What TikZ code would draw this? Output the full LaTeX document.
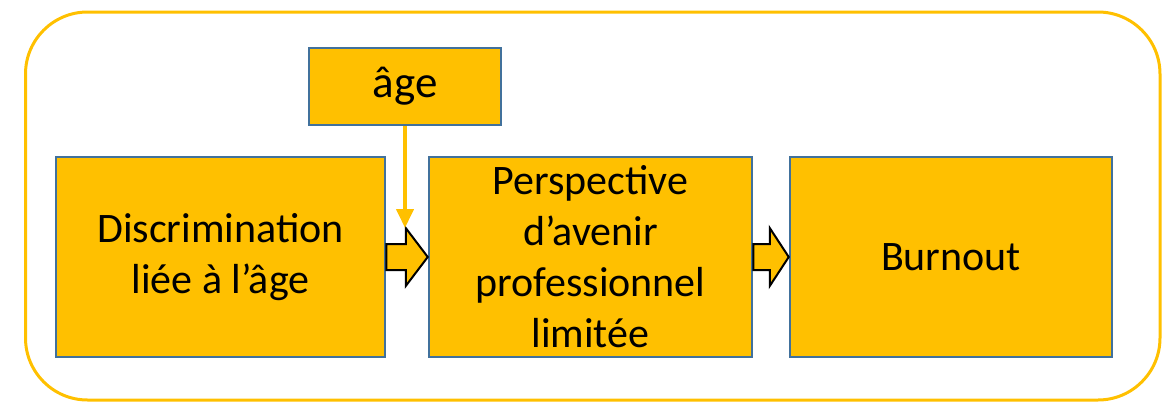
\documentclass[tikz,border=0pt]{standalone}
\usepackage{fontspec}
\setmainfont{Carlito}
\usetikzlibrary{arrows.meta,positioning,calc}
\definecolor{boxOrange}{HTML}{FFC000}
\definecolor{boxEdge}{HTML}{41719C}

\begin{document}
\begin{tikzpicture}[x=1pt,y=-1pt,
  box/.style={draw=boxEdge,line width=2.5pt,fill=boxOrange,inner sep=0pt,
    minimum height=200pt,align=center,font=\fontsize{42}{51}\selectfont},
  blockarr/.style={draw=black,line width=2pt,fill=boxOrange,line join=miter},
  feed/.style={draw=boxOrange,line width=4pt,-{Triangle[width=17pt,length=19pt]}}]
  \useasboundingbox (0,0) rectangle (1163,402);
  % outer frame
  \draw[boxOrange,line width=3pt,rounded corners=62pt] (25.5,12) rectangle (1160,400);
  % chain of boxes, left to right
  \node[box,minimum width=329pt] (disc) at (220.5,257) {Discrimination\\liée à l’âge};
  \node[box,minimum width=323pt,right=41.5pt of disc] (persp) {Perspective\\d’avenir\\professionnel\\limitée};
  \node[box,minimum width=322pt,right=35.5pt of persp] (burn) {Burnout};
  \node[box,minimum width=192pt,minimum height=77pt,font=\fontsize{45}{54}\selectfont] (age) at (405,86.5) {âge};
  % block arrows: body 26 wide, head 58 wide, head 22 long
  \draw[blockarr] let \p1=(disc.east), \p2=(persp.west) in
    (\x1,\y1+13pt) -- (\x2-22pt,\y1+13pt) -- (\x2-22pt,\y1+29pt) -- (\x2,\y1)
    -- (\x2-22pt,\y1-29pt) -- (\x2-22pt,\y1-13pt) -- (\x1,\y1-13pt) -- cycle;
  \draw[blockarr] let \p1=(persp.east), \p2=(burn.west) in
    (\x1,\y1+13pt) -- (\x2-19pt,\y1+13pt) -- (\x2-19pt,\y1+29pt) -- (\x2,\y1)
    -- (\x2-19pt,\y1-29pt) -- (\x2-19pt,\y1-13pt) -- (\x1,\y1-13pt) -- cycle;
  % moderator
  \coordinate (hit) at ($(disc.east)+(0,-29)$);
  \draw[feed] (age.south) -- (age.south |- hit);
\end{tikzpicture}
\end{document}
